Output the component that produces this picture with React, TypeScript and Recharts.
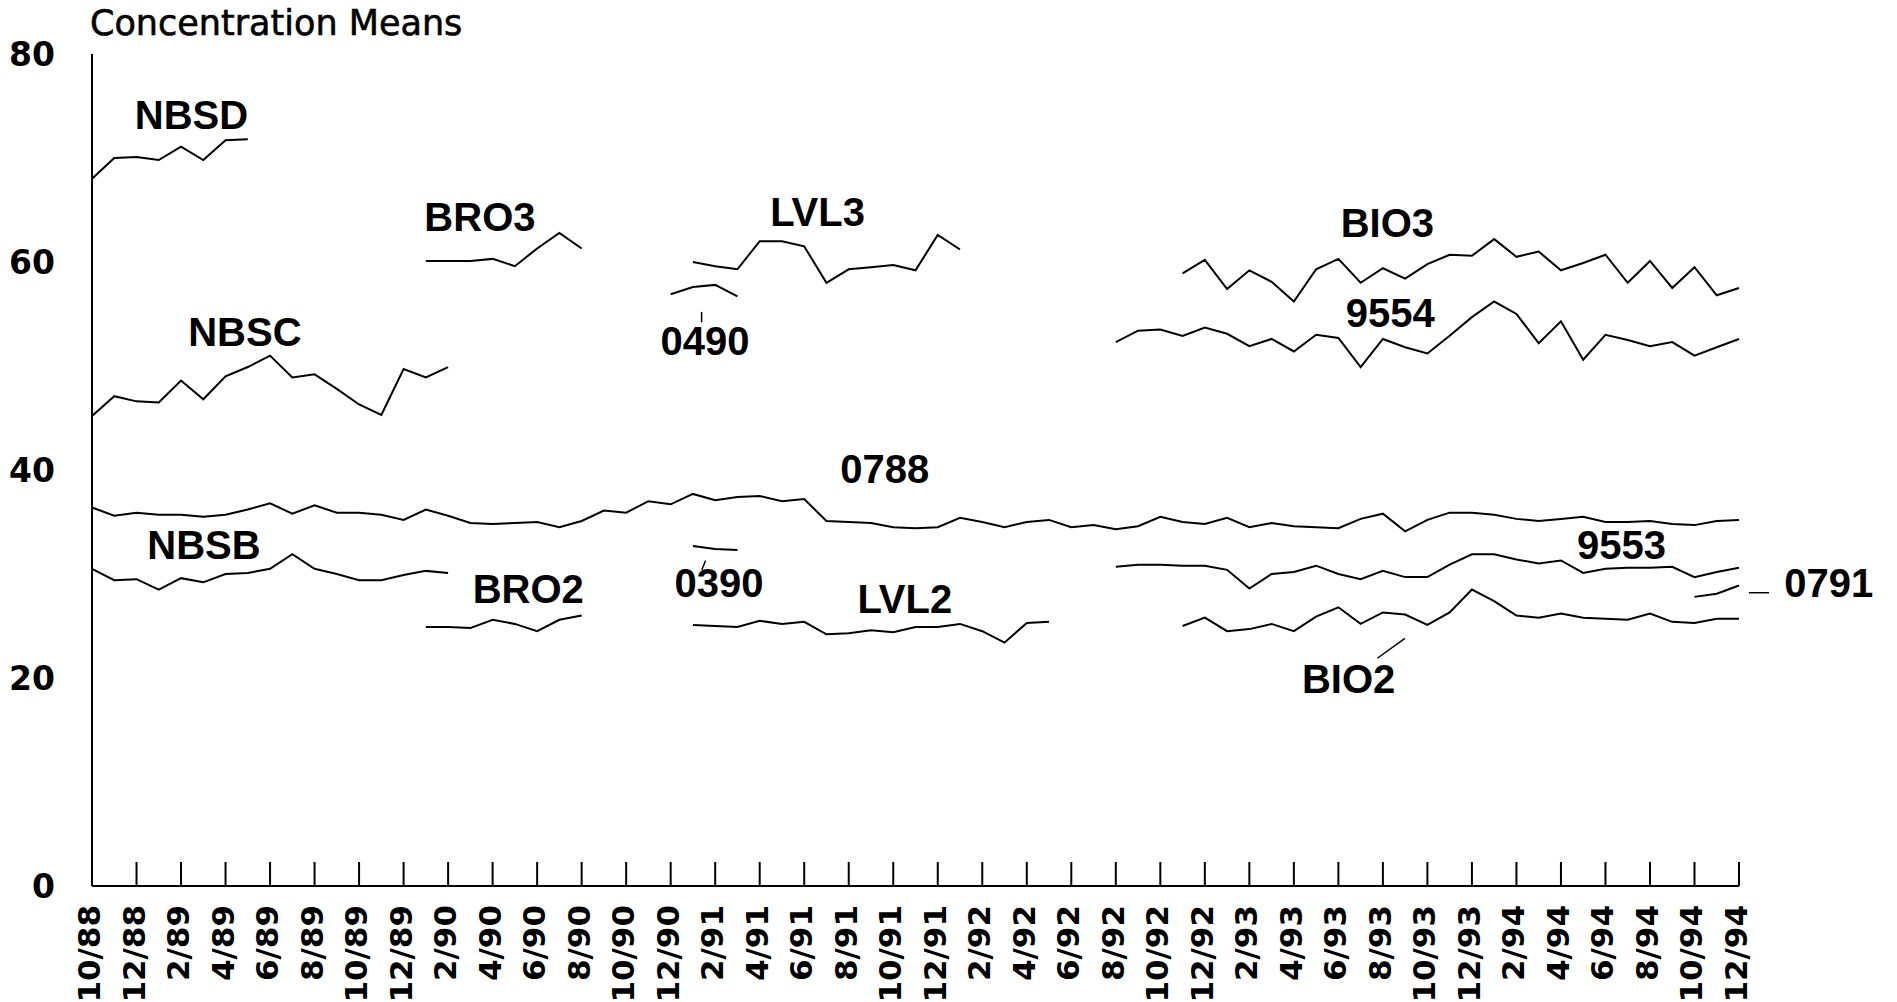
import React from 'react';
import { LineChart, Line, XAxis, YAxis, ReferenceDot, ReferenceLine } from 'recharts';

const AXIS_FONT = '"DejaVu Sans", sans-serif';
const TAG_FONT = '"Liberation Sans", Arial, sans-serif';

// x is a month index: 0 = 10/88 ... 74 = 12/94
const TICK_LABELS = [
  '10/88', '12/88', '2/89', '4/89', '6/89', '8/89', '10/89', '12/89', '2/90', '4/90',
  '6/90', '8/90', '10/90', '12/90', '2/91', '4/91', '6/91', '8/91', '10/91', '12/91',
  '2/92', '4/92', '6/92', '8/92', '10/92', '12/92', '2/93', '4/93', '6/93', '8/93',
  '10/93', '12/93', '2/94', '4/94', '6/94', '8/94', '10/94', '12/94',
];
const MONTH_COUNT = 75;
const Y_TICKS = [0, 20, 40, 60, 80];

// each series: first month index + monthly means
const NBSD = [68.0, 70.0, 70.1, 69.8, 71.1, 69.8, 71.7, 71.8];
const NBSC = [45.2, 47.1, 46.6, 46.5, 48.6, 46.8, 49.0, 49.9, 51.0, 48.9, 49.2, 47.8, 46.3, 45.3, 49.7, 48.9, 49.9];
const NBSB = [30.5, 29.4, 29.5, 28.5, 29.6, 29.2, 30.0, 30.1, 30.5, 31.9, 30.5, 30.0, 29.4, 29.4, 29.9, 30.3, 30.1];
const BRO3 = [60.1, 60.1, 60.1, 60.3, 59.6, 61.3, 62.8, 61.3];
const BRO2 = [24.9, 24.9, 24.8, 25.6, 25.2, 24.5, 25.6, 26.0];
const S0490 = [56.9, 57.6, 57.8, 56.7];
const S0390 = [32.7, 32.4, 32.3];
const LVL3 = [60.0, 59.6, 59.3, 62.0, 62.0, 61.5, 58.0, 59.3, 59.5, 59.7, 59.2, 62.6, 61.2];
const LVL2 = [25.1, 25.0, 24.9, 25.5, 25.2, 25.4, 24.2, 24.3, 24.6, 24.4, 24.9, 24.9, 25.2, 24.5, 23.4, 25.3, 25.4];
const S0788 = [
  36.4, 35.6, 35.9, 35.7, 35.7, 35.5, 35.7, 36.2, 36.8, 35.8, 36.6, 35.9, 35.9, 35.7, 35.2, 36.2, 35.6, 34.9, 34.8, 34.9,
  35.0, 34.5, 35.1, 36.1, 35.9, 37.0, 36.7, 37.7, 37.1, 37.4, 37.5, 37.0, 37.2, 35.1, 35.0, 34.9, 34.5, 34.4, 34.5, 35.4,
  35.0, 34.5, 35.0, 35.2, 34.5, 34.7, 34.3, 34.6, 35.5, 35.0, 34.8, 35.4, 34.5, 34.9, 34.6, 34.5, 34.4, 35.3, 35.8, 34.1,
  35.2, 35.9, 35.9, 35.7, 35.3, 35.1, 35.3, 35.5, 35.0, 35.0, 35.1, 34.8, 34.7, 35.1, 35.2,
];
const BIO3 = [
  58.9, 60.2, 57.4, 59.2, 58.1, 56.2, 59.3, 60.3, 58.0, 59.4, 58.4, 59.8, 60.7, 60.6, 62.2, 60.5, 61.0,
  59.2, 59.9, 60.7, 58.0, 60.1, 57.5, 59.5, 56.8, 57.5,
];
const S9554 = [
  52.3, 53.4, 53.5, 52.9, 53.7, 53.1, 51.9, 52.6, 51.4, 53.0, 52.7, 49.9, 52.6, 51.8, 51.2, 52.9, 54.7, 56.2, 55.0, 52.2,
  54.3, 50.6, 53.0, 52.5, 51.9, 52.3, 51.0, 51.8, 52.6,
];
const S9553 = [
  30.7, 30.9, 30.9, 30.8, 30.8, 30.4, 28.6, 30.0, 30.2, 30.8, 30.0, 29.5, 30.3, 29.7, 29.7, 30.9, 31.9, 31.9, 31.4,
  31.0, 31.3, 30.1, 30.5, 30.6, 30.6, 30.7, 29.7, 30.2, 30.6,
];
const BIO2 = [
  25.0, 25.8, 24.5, 24.7, 25.2, 24.5, 25.9, 26.8, 25.2, 26.3, 26.1, 25.1, 26.3, 28.5, 27.4, 26.0, 25.8,
  26.2, 25.8, 25.7, 25.6, 26.2, 25.4, 25.3, 25.7, 25.7,
];
const S0791 = [27.8, 28.1, 28.9];

const SERIES = [
  { key: 'NBSD', start: 0, values: NBSD },
  { key: 'NBSC', start: 0, values: NBSC },
  { key: 'NBSB', start: 0, values: NBSB },
  { key: 'BRO3', start: 15, values: BRO3 },
  { key: 'BRO2', start: 15, values: BRO2 },
  { key: '0490', start: 26, values: S0490 },
  { key: '0390', start: 27, values: S0390 },
  { key: 'LVL3', start: 27, values: LVL3 },
  { key: 'LVL2', start: 27, values: LVL2 },
  { key: '0788', start: 0, values: S0788 },
  { key: 'BIO3', start: 49, values: BIO3 },
  { key: '9554', start: 46, values: S9554 },
  { key: '9553', start: 46, values: S9553 },
  { key: 'BIO2', start: 49, values: BIO2 },
  { key: '0791', start: 72, values: S0791 },
];

// series name tags, placed in data units
const TAGS = [
  { text: 'NBSD', x: 4.47, y: 74.2 },
  { text: 'NBSC', x: 6.87, y: 53.3 },
  { text: 'BRO3', x: 17.43, y: 64.3 },
  { text: 'LVL3', x: 32.6, y: 64.8 },
  { text: '0490', x: 27.54, y: 52.4 },
  { text: 'BIO3', x: 58.2, y: 63.8 },
  { text: '9554', x: 58.33, y: 55.1 },
  { text: '0788', x: 35.62, y: 40.1 },
  { text: 'NBSB', x: 5.03, y: 32.8 },
  { text: 'BRO2', x: 19.6, y: 28.6 },
  { text: '0390', x: 28.17, y: 29.2 },
  { text: 'LVL2', x: 36.52, y: 27.6 },
  { text: '9553', x: 68.72, y: 32.8 },
  { text: '0791', x: 78.03, y: 29.2 },
  { text: 'BIO2', x: 56.46, y: 19.9 },
];

const LEADERS = [
  { x1: 27.39, y1: 54.2, x2: 27.39, y2: 55.2 },
  { x1: 27.4, y1: 30.4, x2: 27.57, y2: 31.3 },
  { x1: 57.75, y1: 21.9, x2: 58.99, y2: 23.8 },
  { x1: 74.45, y1: 28.2, x2: 75.35, y2: 28.2 },
];

const rows = Array.from({ length: MONTH_COUNT }, (_, i) => {
  const row: Record<string, number> = { i };
  for (const s of SERIES) {
    const k = i - s.start;
    if (k >= 0 && k < s.values.length) row[s.key] = s.values[k];
  }
  return row;
});

const MonthTick = (props: any) => {
  const { x, y, payload } = props;
  const label = TICK_LABELS[Math.round(payload.value / 2)];
  return (
    <g>
      <line x1={x} y1={y} x2={x} y2={y - 24} stroke="#000" strokeWidth={2} />
      <g transform={`translate(${x},${y + 19}) rotate(-90)`}>
        <text x={0} y={0} dy={8} textAnchor="end" fontSize={31} fontWeight="bold" fontFamily={AXIS_FONT} fill="#000">
          {label}
        </text>
      </g>
    </g>
  );
};

export default function App() {
  return (
    <div style={{ position: 'absolute', left: 0, top: 0, width: 1897, height: 1002, background: '#fff' }}>
      <div
        style={{
          position: 'absolute',
          left: 90,
          top: 6,
          fontFamily: AXIS_FONT,
          fontSize: 35,
          lineHeight: 1,
          color: '#000',
          WebkitTextStroke: '0.6px #000',
          whiteSpace: 'nowrap',
        }}
      >
        Concentration Means
      </div>
      <LineChart width={1897} height={1002} data={rows} margin={{ top: 54, right: 158, bottom: 0, left: 0 }}>
        <XAxis
          dataKey="i"
          type="number"
          domain={[0, MONTH_COUNT - 1]}
          ticks={TICK_LABELS.map((_, k) => k * 2)}
          interval={0}
          height={116}
          tickLine={false}
          tickSize={0}
          tickMargin={0}
          axisLine={{ stroke: '#000', strokeWidth: 2 }}
          tick={(p: any) => <MonthTick {...p} />}
        />
        <YAxis
          type="number"
          domain={[0, 80]}
          ticks={Y_TICKS}
          interval={0}
          width={92}
          tickLine={false}
          tickSize={0}
          tickMargin={37}
          axisLine={{ stroke: '#000', strokeWidth: 2 }}
          tick={{ fontSize: 33, fontWeight: 'bold', fill: '#000', fontFamily: AXIS_FONT }}
        />
        {SERIES.map((s) => (
          <Line
            key={s.key}
            dataKey={s.key}
            type="linear"
            stroke="#000"
            strokeWidth={2}
            dot={false}
            connectNulls={false}
            isAnimationActive={false}
          />
        ))}
        {LEADERS.map((l, k) => (
          <ReferenceLine
            key={`lead-${k}`}
            segment={[{ x: l.x1, y: l.y1 }, { x: l.x2, y: l.y2 }]}
            stroke="#000"
            strokeWidth={1.5}
            ifOverflow="visible"
          />
        ))}
        {TAGS.map((t) => (
          <ReferenceDot
            key={`tag-${t.text}`}
            x={t.x}
            y={t.y}
            r={0}
            fill="none"
            stroke="none"
            ifOverflow="visible"
            label={{ value: t.text, position: 'center', fontSize: 40, fontWeight: 'bold', fill: '#000', fontFamily: TAG_FONT }}
          />
        ))}
      </LineChart>
    </div>
  );
}
